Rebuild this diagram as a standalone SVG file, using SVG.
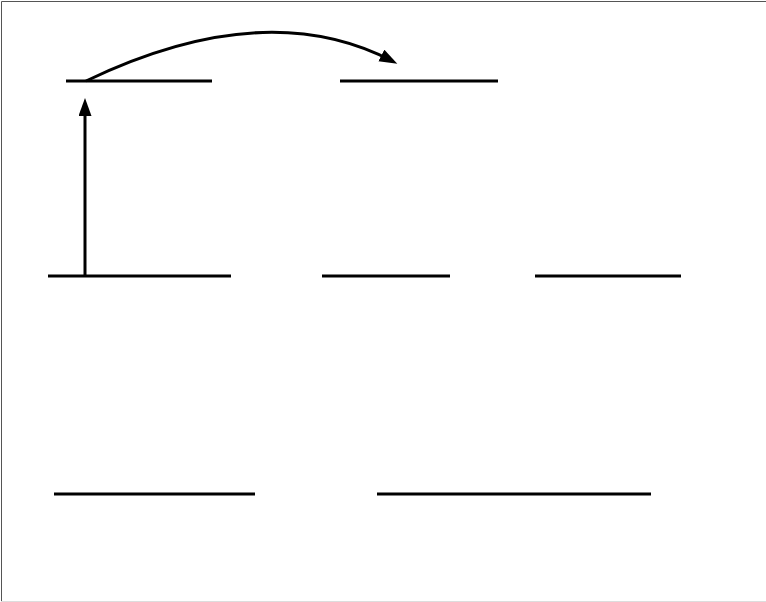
<svg xmlns="http://www.w3.org/2000/svg" width="766" height="602" viewBox="0 0 766 602">
<style>
.n{stroke:#000;stroke-width:3;fill:none}
.c{stroke:#000;stroke-width:3;fill:none}
</style>
<defs>
<marker id="ah" markerUnits="userSpaceOnUse" markerWidth="20" markerHeight="14" refX="12" refY="6.5" orient="auto">
<path d="M0,0 L18,6.5 L0,13 z" fill="#000"/>
</marker>
</defs>
<rect x="0" y="0" width="766" height="602" fill="#fff"/>
<path d="M1.5,602 V1.5 H766" stroke="#555" stroke-width="1" fill="none"/>
<line x1="1" y1="601.5" x2="766" y2="601.5" stroke="#ddd" stroke-width="1"/>
<g id="nodeA"><line class="n" x1="66" y1="81" x2="212" y2="81"/></g>
<g id="nodeB"><line class="n" x1="340" y1="81" x2="498" y2="81"/></g>
<g id="nodeC"><line class="n" x1="48" y1="276" x2="231" y2="276"/></g>
<g id="nodeD"><line class="n" x1="322" y1="276" x2="450" y2="276"/></g>
<g id="nodeE"><line class="n" x1="535" y1="276" x2="681" y2="276"/></g>
<g id="nodeF"><line class="n" x1="54" y1="494" x2="255" y2="494"/></g>
<g id="nodeG"><line class="n" x1="377" y1="494" x2="651" y2="494"/></g>
<g id="connectors">
<line class="c" x1="85" y1="276" x2="85" y2="104" marker-end="url(#ah)"/>
<path class="c" d="M86,81 Q265,-5 392,61" marker-end="url(#ah)"/>
</g>
</svg>
